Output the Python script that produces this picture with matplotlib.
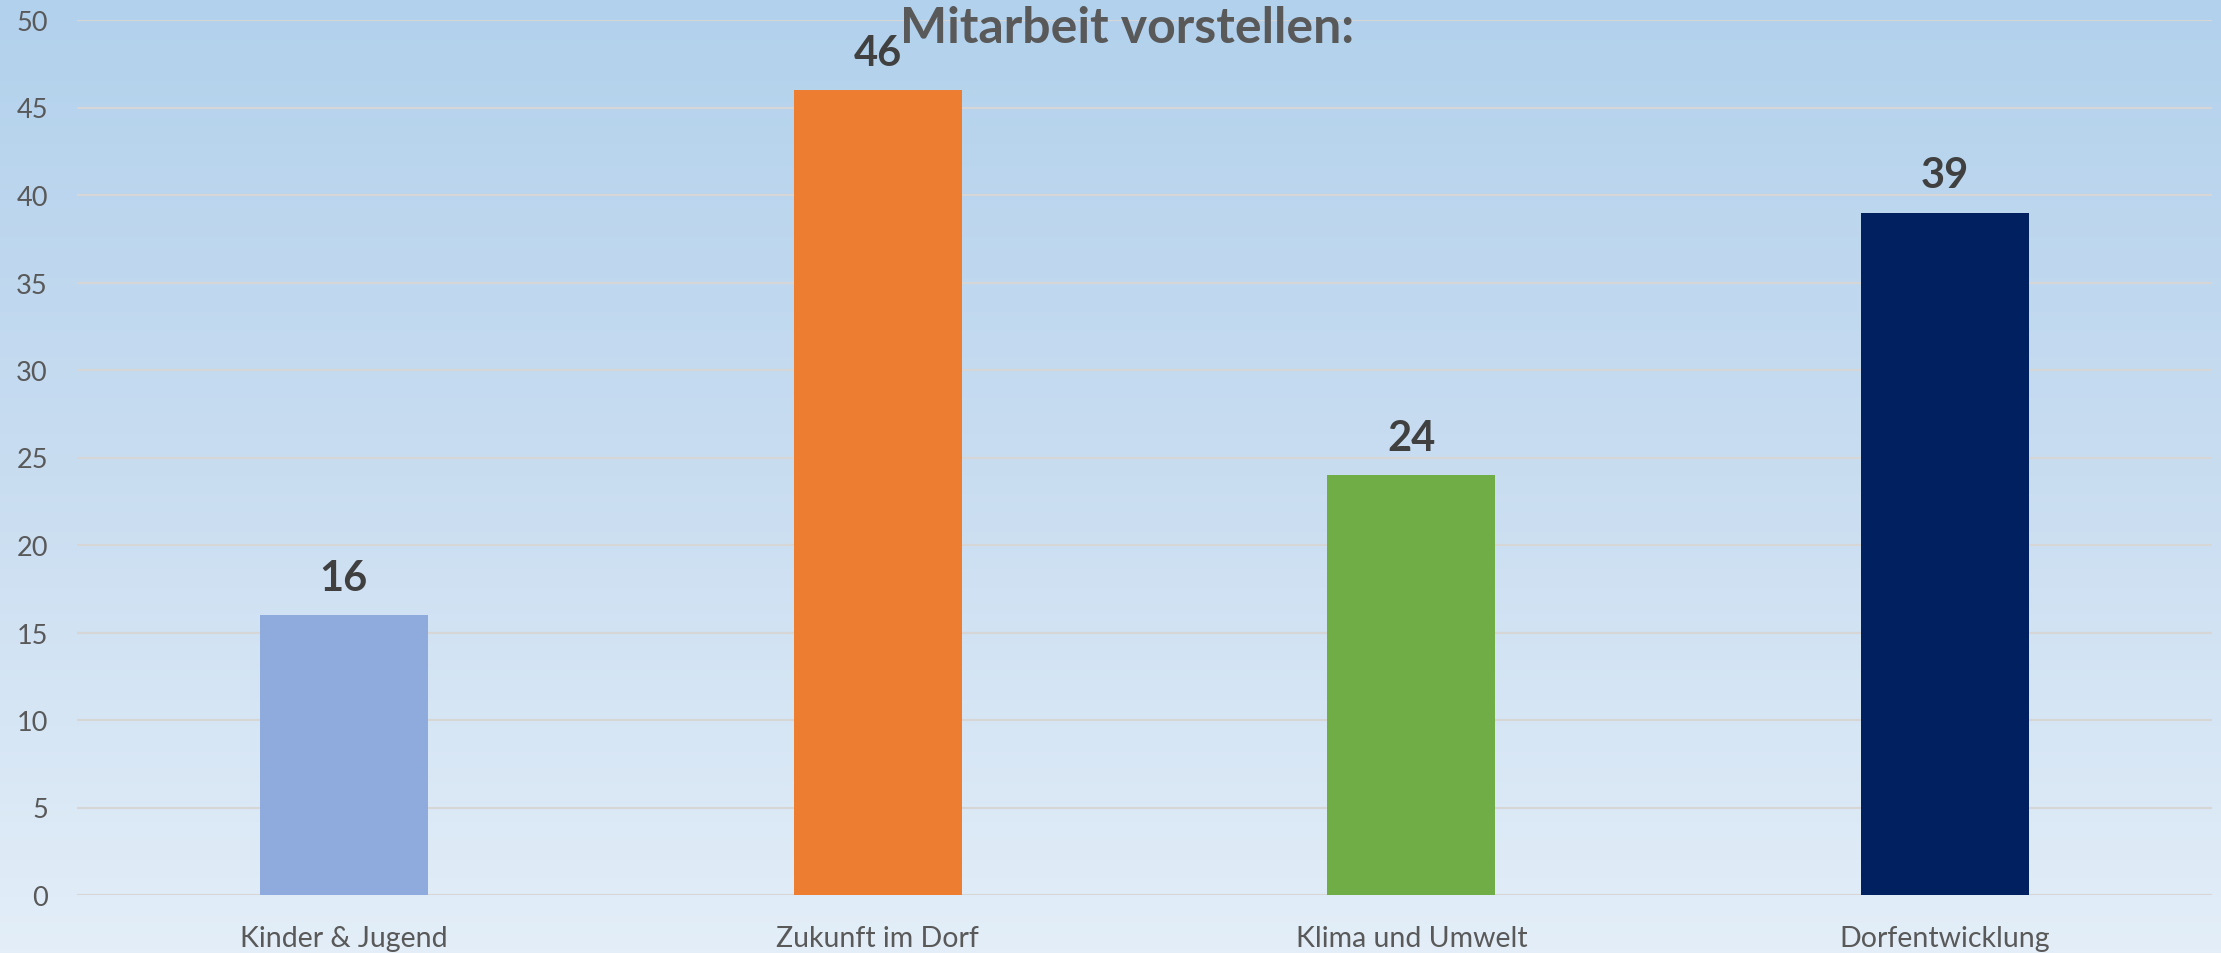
import numpy as np
import matplotlib
matplotlib.use("Agg")
import matplotlib.pyplot as plt
from matplotlib.colors import LinearSegmentedColormap

categories = ["Kinder & Jugend", "Zukunft im Dorf", "Klima und Umwelt", "Dorfentwicklung"]
values = [16, 46, 24, 39]
bar_colors = ["#8FAADC", "#ED7D31", "#70AD47", "#002060"]
yticks = [0, 5, 10, 15, 20, 25, 30, 35, 40, 45, 50]
title = "Mitarbeit vorstellen:"

FONT = "Lato"
W, H, DPI = 2221, 954, 100
fig = plt.figure(figsize=(W / DPI, H / DPI), dpi=DPI)

# gradient background
bg = fig.add_axes([0, 0, 1, 1], zorder=-10)
cmap = LinearSegmentedColormap.from_list("bg", ["#B2D1EC", "#C9DDF1", "#E3EEF8"])
grad = np.linspace(0, 1, 256).reshape(-1, 1)
bg.imshow(grad, aspect="auto", cmap=cmap, extent=[0, 1, 0, 1], origin="upper")
bg.set_axis_off()

left, right = 77 / W, 2212 / W
bottom, top = (H - 896) / H, (H - 21) / H
ax = fig.add_axes([left, bottom, right - left, top - bottom])
ax.patch.set_alpha(0)

x = np.arange(len(categories))
bars = ax.bar(x, values, width=0.315, color=bar_colors, zorder=3)

ax.set_xlim(-0.5, len(categories) - 0.5)
ax.set_ylim(0, 50)
ax.set_yticks(yticks)
ax.set_yticklabels([str(t) for t in yticks], fontsize=19.5, color="#595959", family=FONT)
ax.tick_params(axis="y", length=0, pad=21)
ax.set_xticks(x)
ax.set_xticklabels([])
ax.tick_params(axis="x", length=0)
ax.yaxis.grid(True, color="#D6D6D6", linewidth=1.6, zorder=0)
ax.set_axisbelow(True)
for s in ax.spines.values():
    s.set_visible(False)

for xi, cat in zip(x, categories):
    ax.annotate(cat, xy=(xi, 0), xycoords=("data", "axes fraction"),
                xytext=(0, -36.7), textcoords="offset points",
                ha="center", va="baseline", fontsize=20.5, color="#595959", family=FONT)

for xi, v in zip(x, values):
    ax.annotate(str(v), xy=(xi, v), xytext=(0, 18), textcoords="offset points",
                ha="center", va="baseline", fontsize=30, fontweight="bold",
                color="#404040", family=FONT, zorder=5)

fig.text(1127 / W, (H - 43) / H, title, ha="center", va="baseline",
         fontsize=36, fontweight="bold", color="#595959", family=FONT)

fig.savefig("out.png", dpi=DPI)
